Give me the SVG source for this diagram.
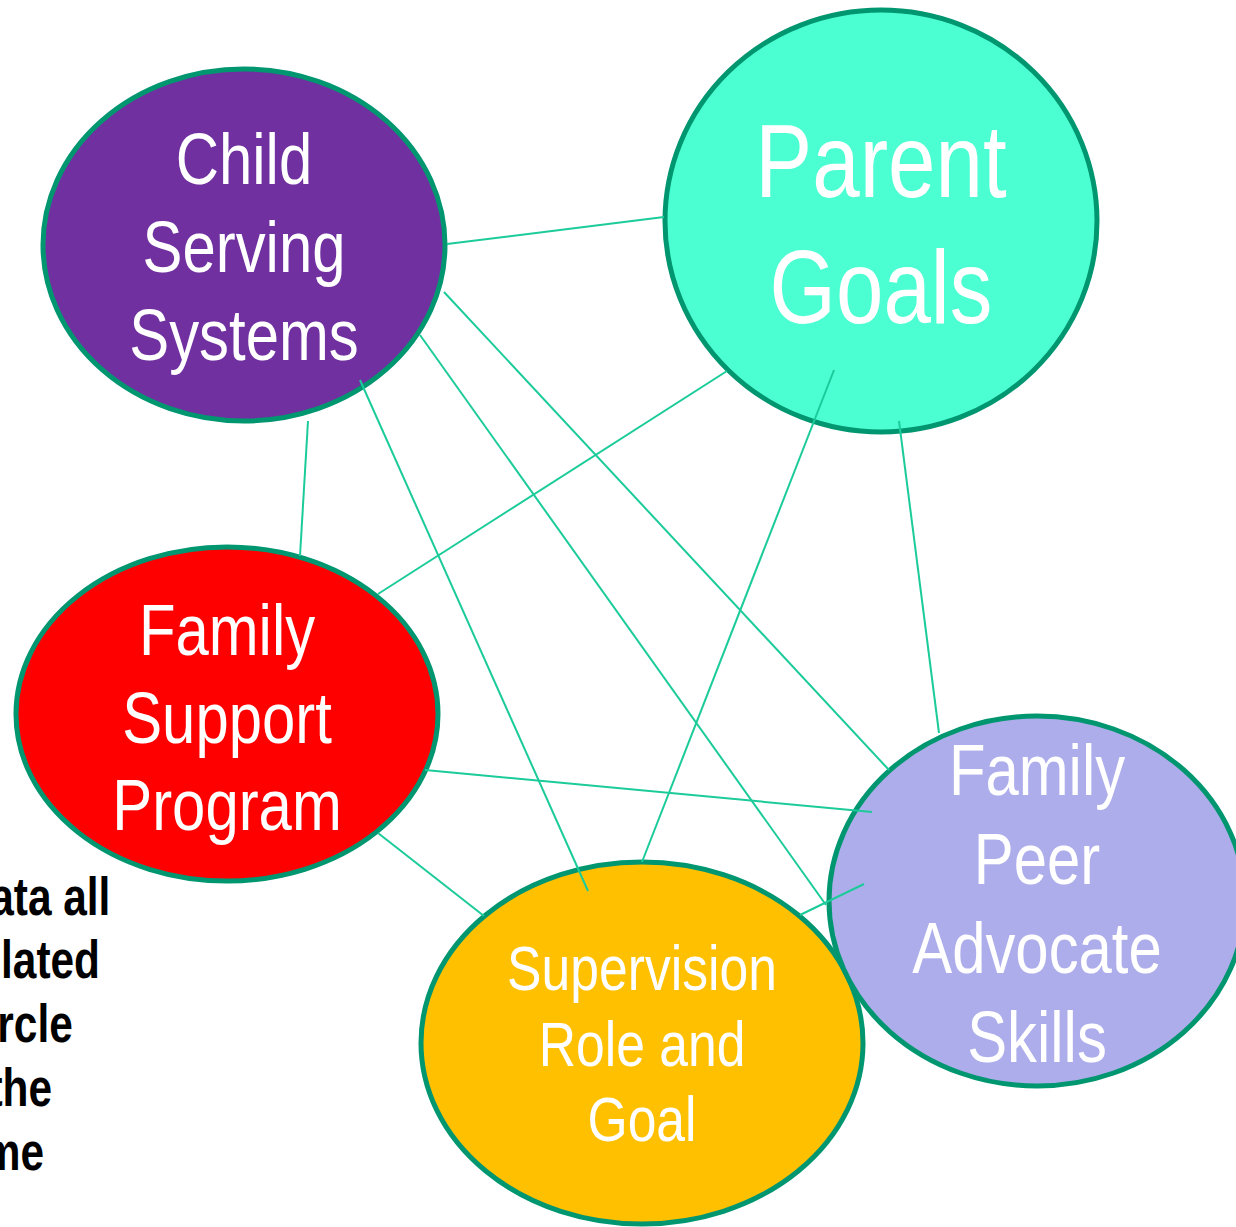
<svg xmlns="http://www.w3.org/2000/svg" width="1236" height="1227" viewBox="0 0 1236 1227">
  <style>
    .node { stroke: #009670; stroke-width: 5; }
    .label { font-family: "Liberation Sans", Arial, sans-serif; fill: #ffffff; text-anchor: middle; }
    .note { font-family: "Liberation Sans", Arial, sans-serif; font-weight: bold; fill: #000000; text-anchor: end; font-size: 53px; }
    .link { stroke: #1ccb9a; stroke-width: 2; fill: none; }
  </style>
  <rect width="1236" height="1227" fill="#ffffff"/>

  <!-- side note, clipped at the left edge -->
  <g id="note" transform="scale(0.8,1)">
    <text class="note" x="138" y="915">ata all</text>
    <text class="note" x="125" y="978">lated</text>
    <text class="note" x="91" y="1042">rcle</text>
    <text class="note" x="65" y="1106">the</text>
    <text class="note" x="55" y="1170">me</text>
  </g>

  <g id="child-serving-systems">
    <ellipse class="node" cx="244" cy="245" rx="201" ry="176" fill="#7030a0"/>
    <g transform="translate(244,0) scale(0.82,1)">
      <text class="label" x="0" y="184" font-size="73">Child</text>
      <text class="label" x="0" y="272" font-size="73">Serving</text>
      <text class="label" x="0" y="360" font-size="73">Systems</text>
    </g>
  </g>

  <g id="parent-goals">
    <ellipse class="node" cx="881" cy="221" rx="216" ry="211" fill="#4bffd2"/>
    <g transform="translate(881,0) scale(0.82,1)">
      <text class="label" x="0" y="197" font-size="104">Parent</text>
      <text class="label" x="0" y="323" font-size="104">Goals</text>
    </g>
  </g>

  <g id="family-support-program">
    <ellipse class="node" cx="227" cy="714" rx="211" ry="167" fill="#ff0000"/>
    <g transform="translate(227,0) scale(0.82,1)">
      <text class="label" x="0" y="655" font-size="73">Family</text>
      <text class="label" x="0" y="743" font-size="73">Support</text>
      <text class="label" x="0" y="830" font-size="73">Program</text>
    </g>
  </g>

  <g id="supervision-role-and-goal">
    <ellipse class="node" cx="642" cy="1043" rx="221" ry="181" fill="#ffc000"/>
    <g transform="translate(642,0) scale(0.82,1)">
      <text class="label" x="0" y="990" font-size="63">Supervision</text>
      <text class="label" x="0" y="1066" font-size="63">Role and</text>
      <text class="label" x="0" y="1141" font-size="63">Goal</text>
    </g>
  </g>

  <g id="family-peer-advocate-skills">
    <ellipse class="node" cx="1037" cy="901" rx="208" ry="185" fill="#adadeb"/>
    <g transform="translate(1037,0) scale(0.82,1)">
      <text class="label" x="0" y="795" font-size="73">Family</text>
      <text class="label" x="0" y="884" font-size="73">Peer</text>
      <text class="label" x="0" y="973" font-size="73">Advocate</text>
      <text class="label" x="0" y="1062" font-size="73">Skills</text>
    </g>
  </g>

  <g id="connectors">
    <line class="link" x1="447" y1="244" x2="664" y2="217"/>
    <line class="link" x1="444" y1="292" x2="889" y2="770"/>
    <line class="link" x1="420" y1="335" x2="826" y2="905"/>
    <line class="link" x1="360" y1="380" x2="588" y2="891"/>
    <line class="link" x1="308" y1="421" x2="300" y2="556"/>
    <line class="link" x1="727" y1="371" x2="378" y2="594"/>
    <line class="link" x1="834" y1="370" x2="642" y2="862"/>
    <line class="link" x1="899" y1="421" x2="939" y2="733"/>
    <line class="link" x1="425" y1="770" x2="872" y2="812"/>
    <line class="link" x1="378" y1="833" x2="484" y2="916"/>
    <line class="link" x1="864" y1="884" x2="800" y2="915"/>
  </g>
</svg>
